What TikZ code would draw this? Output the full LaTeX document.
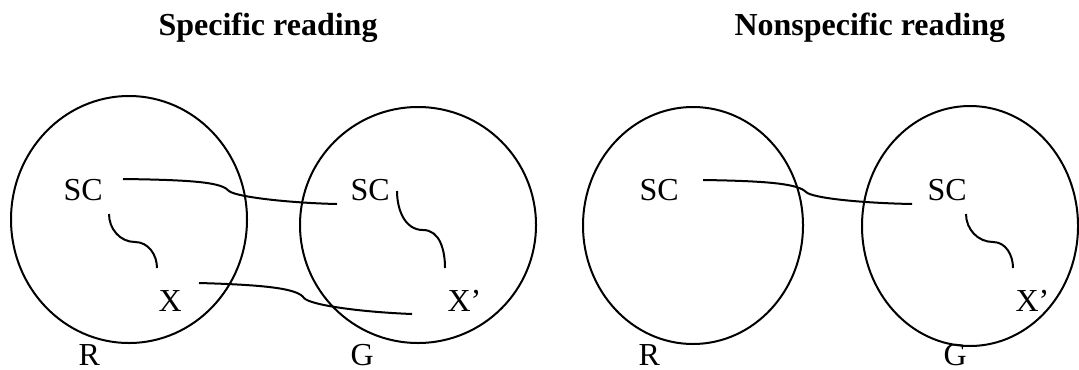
\documentclass[tikz,border=0pt]{standalone}
\usepackage{fontspec}
\setmainfont{Liberation Serif}
\usetikzlibrary{positioning}

\begin{document}
\begin{tikzpicture}[x=0.375pt, y=0.375pt,
        region/.style={draw, line width=0.75pt},
        lbl/.style={anchor=base west, inner sep=0pt, font=\fontsize{12}{14}\selectfont},
        title/.style={lbl, font=\fontsize{12}{14}\selectfont\bfseries},
        link/.style={draw, line width=0.75pt}
    ]
        \useasboundingbox (0,0) rectangle (1079,369);

        % 1. Titles
        \node[title] (tspec) at (158,334) {Specific reading};
        \node[title] (tnon) at (734,334) {Nonspecific reading};

        % 2. The regions R and G
        \draw[region] (129,149.5) ellipse [x radius=118, y radius=123.5];
        \draw[region] (418,144) ellipse [x radius=118, y radius=118];
        \draw[region] (693,143.5) ellipse [x radius=110, y radius=118.5];
        \draw[region] (970,143) ellipse [x radius=108, y radius=120];

        % 3. Labels, specific reading
        \node[lbl] (scA) at (63,169) {SC};
        \node[lbl] (xA) at (158,58) {X};
        \node[lbl] (rA) at (78,4) {R};
        \node[lbl] (scB) at (350,169) {SC};
        \node[lbl] (xB) at (447,58) {X'};
        \node[lbl] (gA) at (350,4) {G};

        % 4. Labels, nonspecific reading
        \node[lbl] (scC) at (639,169) {SC};
        \node[lbl] (rB) at (638,4) {R};
        \node[lbl] (scD) at (927,169) {SC};
        \node[lbl] (xD) at (1015,58) {X'};
        \node[lbl] (gB) at (943,4) {G};

        % Connector ends
        \coordinate (scAr) at (123,190);
        \coordinate (scBl) at (337,165);
        \coordinate (xAr) at (199,86);
        \coordinate (xBl) at (412,55);
        \coordinate (scCr) at (703,189);
        \coordinate (scDl) at (912,165);
        \coordinate (scAb) at (109,155);
        \coordinate (xAt) at (157,101);
        \coordinate (scBb) at (397,178);
        \coordinate (xBt) at (445,101);
        \coordinate (scDb) at (966,155);
        \coordinate (xDt) at (1013,101);

        % 5. Links between the regions
        \draw[link] (scAr) .. controls (200,189) and (222,186) .. (229,178)
            .. controls (236,172) and (290,166) .. (scBl);
        \draw[link] (xAr) .. controls (270,84) and (298,80) .. (304,71)
            .. controls (310,64) and (360,57) .. (xBl);
        \draw[link] (scCr) .. controls (770,188) and (798,185) .. (806,177)
            .. controls (812,171) and (860,166) .. (scDl);

        % 6. Links inside the regions
        \draw[link] (scAb) to[out=-90, in=180] (135,127) to[out=0, in=90] (xAt);
        \draw[link] (scBb) to[out=-90, in=180] (423,139) to[out=0, in=90] (xBt);
        \draw[link] (scDb) to[out=-90, in=180] (993,127) to[out=0, in=90] (xDt);

    \end{tikzpicture}
\end{document}
